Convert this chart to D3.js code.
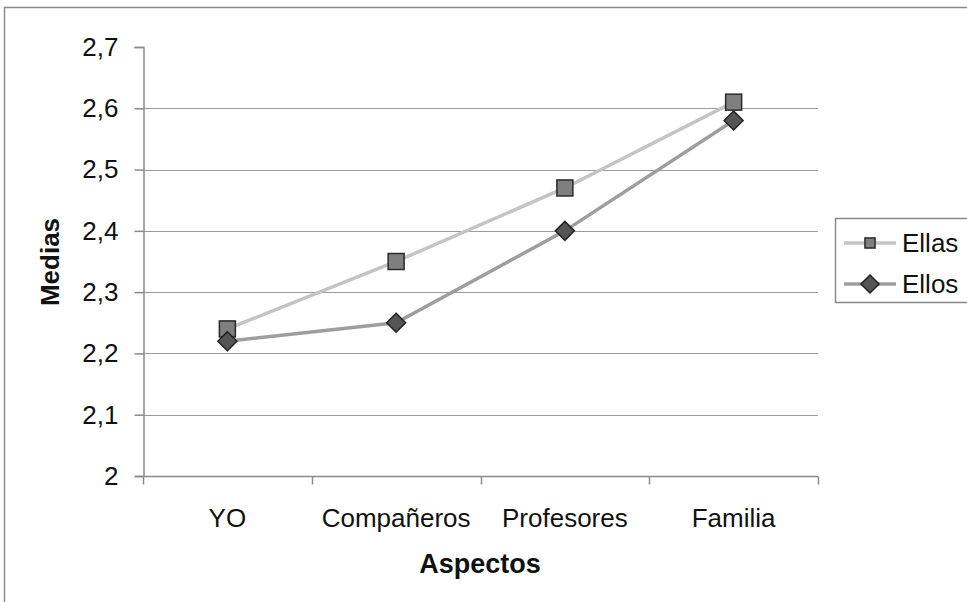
<!DOCTYPE html>
<html>
<head>
<meta charset="utf-8">
<script src="https://cdn.jsdelivr.net/npm/d3@7"></script>
<style>
  html, body { margin: 0; padding: 0; background: #fff; }
  svg { display: block; font-family: "Liberation Sans", Arial, sans-serif; }
</style>
</head>
<body>
<svg id="chart" width="967" height="602"></svg>
<script>
// Mean scores by aspect, split by group
const categories = ["YO", "Compañeros", "Profesores", "Familia"];
const ellas = [2.24, 2.35, 2.47, 2.61];
const ellos = [2.22, 2.25, 2.40, 2.58];
const yTicks = [2, 2.1, 2.2, 2.3, 2.4, 2.5, 2.6, 2.7];
const seriesNames = ["Ellas", "Ellos"];

const svg = d3.select("#chart");
const plot = { left: 143, right: 818, top: 47, bottom: 476 };

// Outer frame
svg.append("rect")
  .attr("x", 4.5).attr("y", 7.5)
  .attr("width", 1000).attr("height", 700)
  .attr("fill", "none").attr("stroke", "#8a8a8a").attr("stroke-width", 1.5);

const x = d3.scaleBand().domain(categories).range([plot.left, plot.right]).padding(0);
const y = d3.scaleLinear().domain([2, 2.7]).range([plot.bottom, plot.top]);

// Horizontal gridlines
svg.append("g")
  .selectAll("line")
  .data(yTicks.filter(t => t > 2 && t < 2.7))
  .join("line")
  .attr("x1", plot.left).attr("x2", plot.right)
  .attr("y1", d => Math.round(y(d)) + 0.5).attr("y2", d => Math.round(y(d)) + 0.5)
  .attr("stroke", "#9a9a9a").attr("stroke-width", 1.2);

const fmt = d => String(d3.format(".1~f")(d)).replace(".", ",");

// Y axis
const yAxis = svg.append("g")
  .attr("transform", `translate(${plot.left + 0.5},0)`)
  .call(d3.axisLeft(y).tickValues(yTicks).tickFormat(fmt).tickSize(9).tickPadding(16));
yAxis.select(".domain").attr("stroke", "#8a8a8a").attr("stroke-width", 1.5);
yAxis.selectAll(".tick line").attr("stroke", "#8a8a8a").attr("stroke-width", 1.5);
yAxis.selectAll("text").attr("font-size", 26).attr("fill", "#111");

// X axis with ticks at category boundaries
const xAxisG = svg.append("g").attr("transform", `translate(0,${plot.bottom + 0.5})`);
xAxisG.append("line")
  .attr("x1", plot.left).attr("x2", plot.right)
  .attr("stroke", "#8a8a8a").attr("stroke-width", 1.5);
const boundaries = categories.map(c => x(c)).concat([x(categories[categories.length - 1]) + x.bandwidth()]);
xAxisG.selectAll("line.tk")
  .data(boundaries)
  .join("line").attr("class", "tk")
  .attr("x1", d => Math.round(d) + 0.5).attr("x2", d => Math.round(d) + 0.5)
  .attr("y1", 0).attr("y2", 8)
  .attr("stroke", "#8a8a8a").attr("stroke-width", 1.5);
xAxisG.selectAll("text")
  .data(categories)
  .join("text")
  .attr("x", d => x(d) + x.bandwidth() / 2)
  .attr("y", 50)
  .attr("text-anchor", "middle")
  .attr("font-size", 26).attr("fill", "#111")
  .text(d => d);

// Axis titles
svg.append("text")
  .attr("x", 480).attr("y", 573)
  .attr("text-anchor", "middle")
  .attr("font-size", 27).attr("font-weight", "bold").attr("fill", "#111")
  .text("Aspectos");
svg.append("text")
  .attr("transform", `translate(59,262) rotate(-90)`)
  .attr("text-anchor", "middle")
  .attr("font-size", 26).attr("font-weight", "bold").attr("fill", "#111")
  .text("Medias");

const cx = d => x(d) + x.bandwidth() / 2;
const line = d3.line().x(d => cx(d.cat)).y(d => y(d.v));

const series = [
  { name: seriesNames[0], values: ellas, stroke: "#c4c4c4", fill: "#7f7f7f", mstroke: "#2a2a2a", shape: "square" },
  { name: seriesNames[1], values: ellos, stroke: "#9e9e9e", fill: "#555555", mstroke: "#222", shape: "diamond" }
];

function drawMarker(g, s, px, py, scale) {
  if (s.shape === "square") {
    const h = 8 * scale;
    g.append("rect")
      .attr("x", px - h).attr("y", py - h).attr("width", 2 * h).attr("height", 2 * h)
      .attr("fill", s.fill).attr("stroke", s.mstroke).attr("stroke-width", 1.5);
  } else {
    const r = 9.5 * scale;
    g.append("path")
      .attr("d", `M${px},${py - r}L${px + r},${py}L${px},${py + r}L${px - r},${py}Z`)
      .attr("fill", s.fill).attr("stroke", s.mstroke).attr("stroke-width", 1.5);
  }
}

// Lines first, then markers
series.forEach(s => {
  const pts = categories.map((c, i) => ({ cat: c, v: s.values[i] }));
  svg.append("path").datum(pts)
    .attr("d", line)
    .attr("fill", "none").attr("stroke", s.stroke).attr("stroke-width", 3.5);
});
series.forEach(s => {
  const g = svg.append("g");
  categories.forEach((c, i) => drawMarker(g, s, cx(c), y(s.values[i]), 1));
});

// Legend
const lg = svg.append("g");
lg.append("rect")
  .attr("x", 835.5).attr("y", 218.5).attr("width", 140).attr("height", 84)
  .attr("fill", "#fff").attr("stroke", "#8a8a8a").attr("stroke-width", 1.5);
series.forEach((s, i) => {
  const ly = 243 + i * 41;
  lg.append("line")
    .attr("x1", 844).attr("x2", 896).attr("y1", ly).attr("y2", ly)
    .attr("stroke", s.stroke).attr("stroke-width", 3.5);
  drawMarker(lg, s, 870, ly, s.shape === "square" ? 0.63 : 0.95);
  lg.append("text")
    .attr("x", 902).attr("y", ly + 9)
    .attr("font-size", 26).attr("fill", "#111")
    .text(s.name);
});
</script>
</body>
</html>
